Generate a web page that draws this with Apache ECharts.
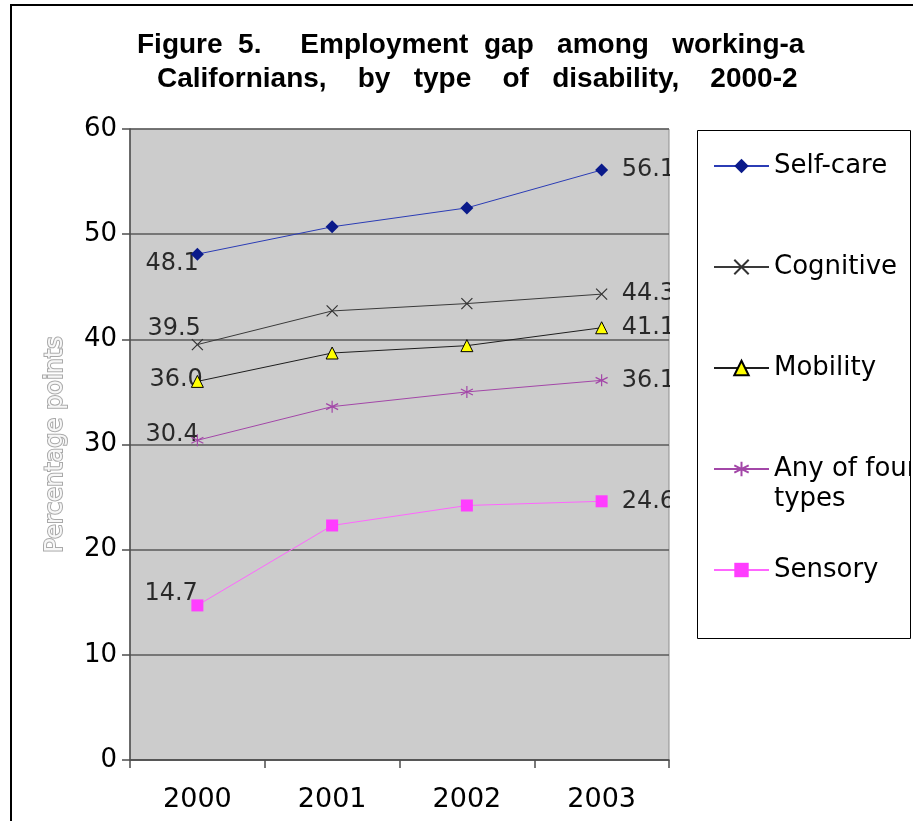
<!DOCTYPE html>
<html>
<head>
<meta charset="utf-8">
<script src="https://cdn.jsdelivr.net/npm/echarts@6/dist/echarts.min.js"></script>
<style>
  html, body { margin: 0; padding: 0; background: #ffffff; }
  #chart { width: 913px; height: 821px; }
</style>
</head>
<body>
<div id="chart"></div>
<script>
// Employment gap (percentage points) by type of disability, 2000-2003
const years = ['2000', '2001', '2002', '2003'];
const seriesNames = ['Self-care', 'Cognitive', 'Mobility', 'Any of four types', 'Sensory'];
const selfCare  = [48.1, 50.7, 52.5, 56.1];
const cognitive = [39.5, 42.7, 43.4, 44.3];
const mobility  = [36.0, 38.7, 39.4, 41.1];
const anyOfFour = [30.4, 33.6, 35.0, 36.1];
const sensory   = [14.7, 22.3, 24.2, 24.6];
const yMin = 0, yMax = 60, yStep = 10;

const titleLine1 = 'Figure  5.     Employment  gap   among   working-a';
const titleLine2 = 'Californians,    by   type    of   disability,    2000-2';
const yAxisTitle = 'Percentage points';

// ---- layout & look ----
const W = 913, H = 821;
const gridBox = { left: 130, top: 129, right: 244, bottom: 61 };
const legendFrame = { x: 697, y: 130, w: 213, h: 508 };
const sansFont = 'DejaVu Sans, Verdana, sans-serif';

const looks = [
  { data: selfCare,  line: '#2b3cb5', symbol: 'diamond', size: 13, fill: '#0a1a8a', border: '#0a1a8a', bw: 0,   first: [-52, 10] },
  { data: cognitive, line: '#3a3a3a', symbol: 'path://M0,0L10,10M10,0L0,10', size: 11, fill: '#333333', border: '#333333', bw: 1.2, first: [-50, -16] },
  { data: mobility,  line: '#1e1e1e', symbol: 'triangle', size: 12, fill: '#ffff00', border: '#000000', bw: 1, first: [-48, -2] },
  { data: anyOfFour, line: '#a347a8', symbol: 'path://M5,0L5,10M0.6,2.5L9.4,7.5M0.6,7.5L9.4,2.5', size: 12, fill: '#a347a8', border: '#a347a8', bw: 1.2, first: [-52, -6] },
  { data: sensory,   line: '#ff66ff', symbol: 'rect', size: 12, fill: '#ff3dff', border: '#ff3dff', bw: 0, first: [-53, -12] }
];

const series = [];
looks.forEach(function (s, k) {
  series.push({
    type: 'line',
    name: seriesNames[k],
    data: s.data,
    z: 3,
    symbol: s.symbol,
    symbolSize: s.size,
    showSymbol: true,
    lineStyle: { color: s.line, width: 1 },
    itemStyle: { color: s.fill, borderColor: s.border, borderWidth: s.bw },
    emphasis: { disabled: true },
    animation: false
  });
});
// value labels at both ends, drawn beneath the markers
looks.forEach(function (s, k) {
  const last = s.data.length - 1;
  series.push({
    type: 'scatter',
    name: seriesNames[k] + ' (end labels)',
    z: 1,
    silent: true,
    symbolSize: 0,
    itemStyle: { color: 'transparent' },
    label: {
      show: true,
      formatter: function (p) { return Number(p.value).toFixed(1); },
      fontFamily: sansFont,
      fontSize: 24,
      color: '#000000',
      align: 'left',
      verticalAlign: 'middle'
    },
    data: s.data.map(function (v, i) {
      if (i === 0) return { value: v, label: { position: s.first } };
      if (i === last) return { value: v, label: { position: [20, 0] } };
      return '-';
    }),
    animation: false
  });
});

const chart = echarts.init(document.getElementById('chart'), null, { renderer: 'canvas' });
chart.setOption({
  backgroundColor: '#ffffff',
  animation: false,
  textStyle: { fontFamily: sansFont },
  title: [
    { text: titleLine1, left: 137, top: 31, padding: 0,
      textStyle: { fontFamily: 'Liberation Sans, Arial, sans-serif', fontWeight: 'bold', fontSize: 28, color: '#000' } },
    { text: titleLine2, left: 157, top: 65, padding: 0,
      textStyle: { fontFamily: 'Liberation Sans, Arial, sans-serif', fontWeight: 'bold', fontSize: 28, color: '#000' } }
  ],
  grid: {
    left: gridBox.left, top: gridBox.top, right: gridBox.right, bottom: gridBox.bottom,
    containLabel: false, outerBoundsMode: 'none',
    show: true, backgroundColor: '#cccccc', borderColor: '#8f8f8f', borderWidth: 1
  },
  legend: {
    orient: 'vertical',
    left: 713, top: 121,
    padding: 0,
    itemWidth: 55, itemHeight: 18, itemGap: 11,
    selectedMode: false,
    textStyle: { fontFamily: sansFont, fontSize: 26, color: '#000', lineHeight: 30 },
    // each entry is three text lines tall, its first text line level with the marker
    formatter: function (n) { return n === 'Any of four types' ? '\nAny of four\ntypes' : '\n' + n + '\n'; },
    data: seriesNames
  },
  xAxis: {
    type: 'category',
    data: years,
    boundaryGap: true,
    axisLine: { show: true, lineStyle: { color: '#4d4d4d', width: 1.5 } },
    axisTick: { show: true, length: 8, lineStyle: { color: '#4d4d4d', width: 1.5 } },
    axisLabel: { fontFamily: sansFont, fontSize: 27, color: '#000', margin: 26 },
    splitLine: { show: false }
  },
  yAxis: {
    type: 'value',
    min: yMin, max: yMax, interval: yStep,
    name: yAxisTitle,
    nameLocation: 'middle',
    nameGap: 62,
    nameTextStyle: { fontFamily: sansFont, fontSize: 24, color: '#f7f7f7', textBorderColor: '#a9a9a9', textBorderWidth: 2 },
    axisLine: { show: true, lineStyle: { color: '#4d4d4d', width: 1.5 } },
    axisTick: { show: true, length: 8, lineStyle: { color: '#4d4d4d', width: 1.5 } },
    axisLabel: { fontFamily: sansFont, fontSize: 26, color: '#000', margin: 13 },
    splitLine: { show: true, lineStyle: { color: '#5a5a5a', width: 1.5 } }
  },
  graphic: [
    // plot area clips the end labels on its right edge
    { type: 'rect', z: 2, silent: true,
      shape: { x: W - gridBox.right + 1, y: gridBox.top - 10, width: legendFrame.x - (W - gridBox.right) - 2, height: H - gridBox.top - gridBox.bottom + 10 },
      style: { fill: '#ffffff' } },
    // legend frame, clipping its text on the right
    { type: 'rect', z: 20, silent: true,
      shape: { x: legendFrame.x + legendFrame.w + 0.5, y: legendFrame.y, width: W - legendFrame.x - legendFrame.w, height: legendFrame.h + 1 },
      style: { fill: '#ffffff' } },
    { type: 'rect', z: 21, silent: true,
      shape: { x: legendFrame.x + 0.5, y: legendFrame.y + 0.5, width: legendFrame.w, height: legendFrame.h },
      style: { fill: 'none', stroke: '#000000', lineWidth: 1 } },
    // page frame
    { type: 'polyline', z: 21, silent: true,
      shape: { points: [[11, H], [11, 5], [W, 5]] },
      style: { fill: 'none', stroke: '#000000', lineWidth: 2 } }
  ],
  series: series
});
</script>
</body>
</html>
